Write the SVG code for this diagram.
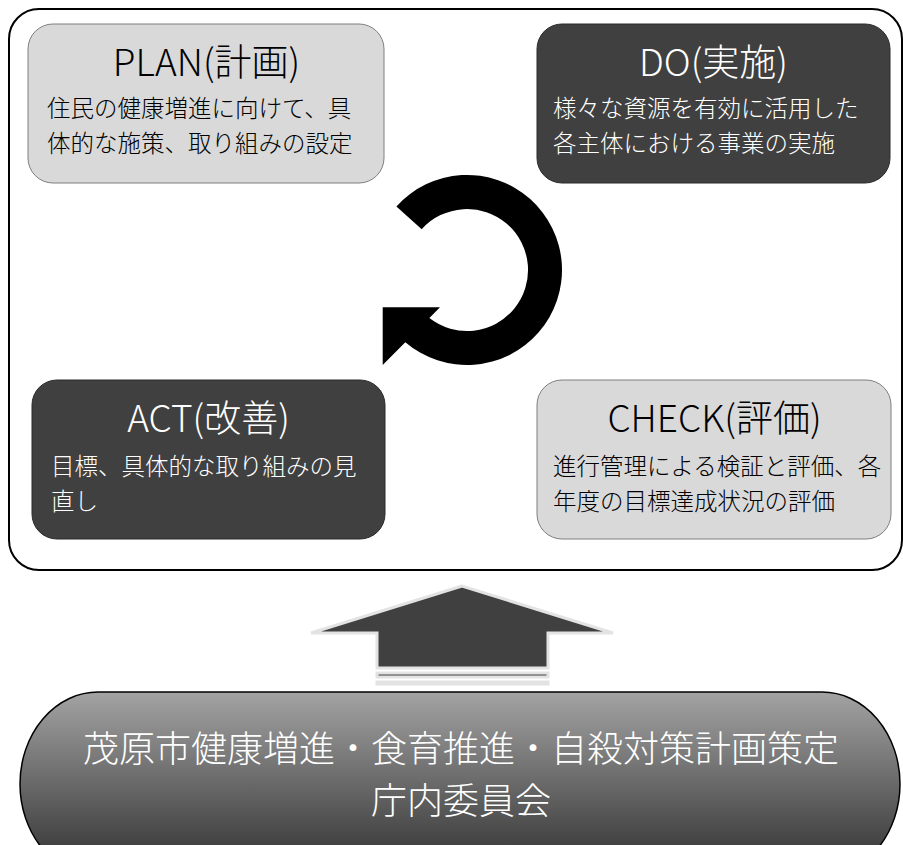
<svg xmlns="http://www.w3.org/2000/svg" width="903" height="845" viewBox="0 0 903 845">
<defs>
<linearGradient id="pillGrad" gradientUnits="userSpaceOnUse" x1="0" y1="692" x2="0" y2="845">
<stop offset="0" stop-color="#a3a3a3"/>
<stop offset="1" stop-color="#424242"/>
</linearGradient>
<style>
.frame{fill:#ffffff;stroke:#000000;stroke-width:2}
.light{fill:#d9d9d9;stroke:#7f7f7f;stroke-width:1}
.dark{fill:#404040;stroke:#2a2a2a;stroke-width:1}
.t{font-family:"Noto Sans CJK JP","Noto Sans",sans-serif;font-weight:300}
.title{font-size:37px;text-anchor:middle}
.body{font-size:23.5px}
.onlight{fill:#000000}
.ondark{fill:#ffffff}
.pilltext{font-size:36px;fill:#ffffff;text-anchor:middle}
.bigarrow{fill:#404040;stroke:#e3e3e3;stroke-width:3}
</style>
</defs>
<rect id="frame" class="frame" x="9" y="9" width="893" height="561" rx="30" ry="30"/>
<g id="plan">
<rect class="light" x="28" y="24" width="356" height="159" rx="25" ry="25"/>
<text class="t title onlight" x="206.5" y="76">PLAN(計画)</text>
<text class="t body onlight" x="47" y="117">住民の健康増進に向けて、具</text>
<text class="t body onlight" x="47" y="152">体的な施策、取り組みの設定</text>
</g>
<g id="do">
<rect class="dark" x="537" y="24" width="353" height="159" rx="25" ry="25"/>
<text class="t title ondark" x="713.5" y="76">DO(実施)</text>
<text class="t body ondark" x="553" y="117">様々な資源を有効に活用した</text>
<text class="t body ondark" x="553" y="152">各主体における事業の実施</text>
</g>
<g id="act">
<rect class="dark" x="32" y="380" width="353" height="159" rx="25" ry="25"/>
<text class="t title ondark" x="208.5" y="432">ACT(改善)</text>
<text class="t body ondark" x="51" y="475">目標、具体的な取り組みの見</text>
<text class="t body ondark" x="51" y="510">直し</text>
</g>
<g id="check">
<rect class="light" x="537" y="380" width="354" height="159" rx="25" ry="25"/>
<text class="t title onlight" x="714.5" y="432">CHECK(評価)</text>
<text class="t body onlight" x="553" y="475">進行管理による検証と評価、各</text>
<text class="t body onlight" x="553" y="510">年度の目標達成状況の評価</text>
</g>
<g id="connectors">
<path id="cycle" d="M 396.4 206.4 A 95 95 0 1 1 405.3 342.2 L 382.7 365 L 382.7 307.3 L 440 307.3 L 429.4 318 A 61 61 0 1 0 421.7 229.2 Z" fill="#000000"/>
<g id="uparrow">
<polygon class="bigarrow" points="462,586 311,633 377,633 377,668 548,668 548,633 613,633"/>
<rect class="bigarrow" x="377" y="673" width="171" height="4" stroke-width="2"/>
<rect class="bigarrow" x="377" y="682" width="171" height="2" stroke-width="2"/>
</g>
</g>
<g id="committee">
<path d="M 98 692 L 822 692 A 78 92 0 0 1 900 784 A 78 92 0 0 1 822 876 L 98 876 A 78 92 0 0 1 20 784 A 78 92 0 0 1 98 692 Z" fill="url(#pillGrad)" stroke="#000000" stroke-width="1.5"/>
<text class="t pilltext" x="461" y="762">茂原市健康増進・食育推進・自殺対策計画策定</text>
<text class="t pilltext" x="461" y="814">庁内委員会</text>
</g>
</svg>
